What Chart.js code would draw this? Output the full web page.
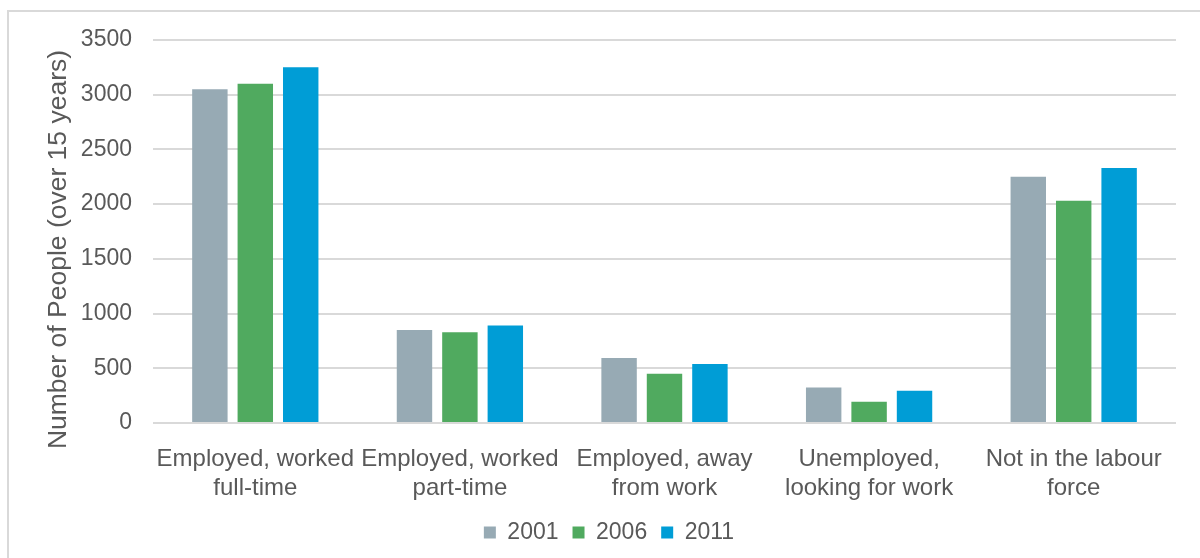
<!DOCTYPE html>
<html>
<head>
<meta charset="utf-8">
<title>Labour Force Status</title>
<script src="https://cdn.jsdelivr.net/npm/chart.js@4.4.1/dist/chart.umd.min.js"></script>
<style>
    html, body {
        margin: 0;
        padding: 0;
        background: #ffffff;
        overflow: hidden;
    }
    .frame {
        position: absolute;
        left: 7px;
        top: 10px;
        width: 1300px;
        height: 700px;
        border-top: 2px solid #d9d9d9;
        border-left: 2px solid #d9d9d9;
    }
    .wrap {
        position: absolute;
        left: 0;
        top: 0;
        width: 1200px;
        height: 558px;
    }
</style>
</head>
<body>
<div class="frame"></div>
<div class="wrap"><canvas id="labourChart" width="1200" height="558"></canvas></div>

<script>
/* ==========================================================
   DATA
========================================================== */
const categories = [
    ["Employed, worked", "full-time"],
    ["Employed, worked", "part-time"],
    ["Employed, away", "from work"],
    ["Unemployed,", "looking for work"],
    ["Not in the labour", "force"]
];

const years = ["2001", "2006", "2011"];

const people2001 = [3050, 850, 595, 325, 2250];
const people2006 = [3100, 830, 450, 195, 2030];
const people2011 = [3250, 890, 540, 295, 2330];

const yTicks = [0, 500, 1000, 1500, 2000, 2500, 3000, 3500];
const yTitle = "Number of People (over 15 years)";

const barColors = ["#97aab4", "#50aa5f", "#009dd6"];

const textGrey = "#595959";
const font = "'Liberation Sans', Arial, sans-serif";

/* ==========================================================
   Y TITLE — drawn a bit lower than the plot centre
========================================================== */
const yTitlePlugin = {
    id: "yTitle",
    afterDraw(chart) {
        const c = chart.ctx;
        const area = chart.chartArea;
        c.save();
        c.translate(66, (area.top + area.bottom) / 2 + 18);
        c.rotate(-Math.PI / 2);
        c.fillStyle = textGrey;
        c.font = "26.5px " + font;
        c.textAlign = "center";
        c.textBaseline = "alphabetic";
        c.fillText(yTitle, 0, 0);
        c.restore();
    }
};

/* ==========================================================
   BAR CHART
========================================================== */
const ctx = document.getElementById("labourChart").getContext("2d");

const seriesValues = [people2001, people2006, people2011];

new Chart(ctx, {
    type: "bar",
    data: {
        labels: categories,
        datasets: years.map((year, i) => ({
            label: year,
            data: seriesValues[i],
            backgroundColor: barColors[i],
            borderWidth: 0,
            categoryPercentage: 0.666,
            barPercentage: 0.78
        }))
    },
    options: {
        responsive: false,
        animation: false,
        layout: {
            padding: { left: 42, right: 24, top: 40, bottom: 4 }
        },
        plugins: {
            tooltip: { enabled: false },
            legend: {
                position: "bottom",
                labels: {
                    color: textGrey,
                    font: { family: font, size: 23 },
                    boxWidth: 12,
                    boxHeight: 12,
                    padding: 14
                }
            }
        },
        scales: {
            x: {
                grid: { display: false },
                border: { display: false },
                ticks: {
                    color: textGrey,
                    font: { family: font, size: 24 },
                    maxRotation: 0,
                    autoSkip: false,
                    padding: 14
                },
                afterFit: (scale) => { scale.height = 84; }
            },
            y: {
                min: 0,
                max: 3500,
                afterBuildTicks: (scale) => {
                    scale.ticks = yTicks.map(v => ({ value: v }));
                },
                grid: {
                    color: "#d9d9d9",
                    lineWidth: 2,
                    drawTicks: false
                },
                border: { display: false },
                ticks: {
                    color: textGrey,
                    font: { family: font, size: 23 },
                    padding: 21,
                    callback: (value) => String(value)
                },
                afterFit: (scale) => { scale.width = 111; }
            }
        }
    },
    plugins: [yTitlePlugin]
});
</script>
</body>
</html>
